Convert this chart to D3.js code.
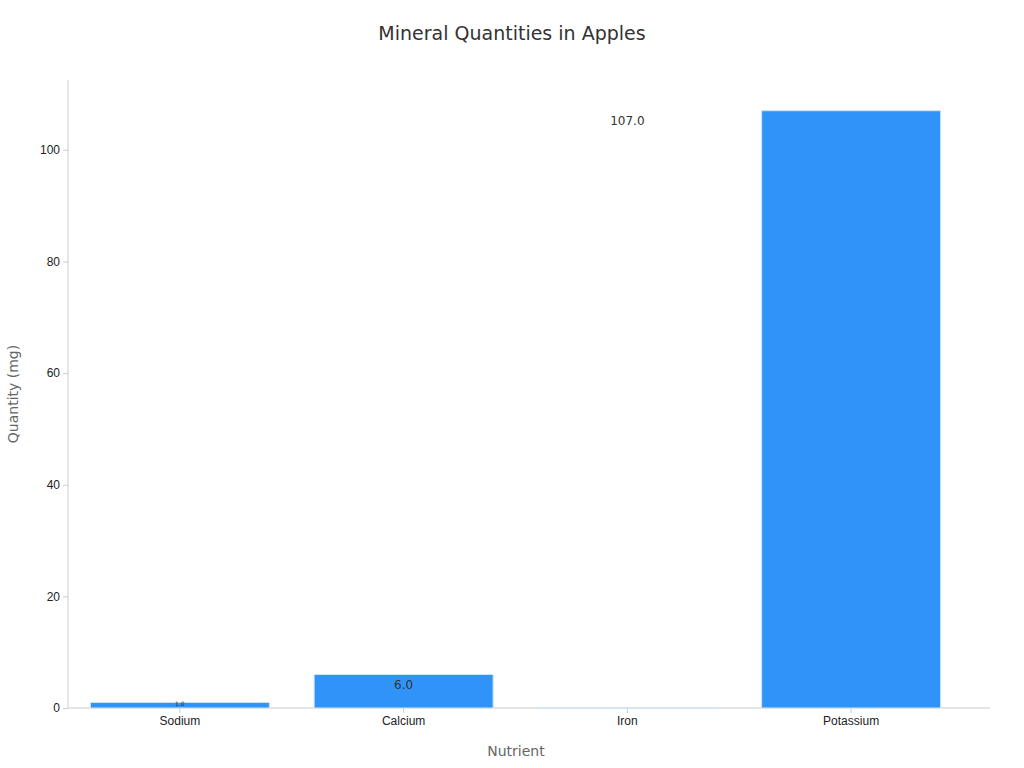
<!DOCTYPE html>
<html><head><meta charset="utf-8">
<script src="https://cdn.jsdelivr.net/npm/d3@7"></script>
<style>body{margin:0;background:#fff;font-family:"DejaVu Sans",sans-serif}</style>
</head><body><svg id="chart" width="1024" height="768"></svg>
<script>
const nutrients = ["Sodium", "Calcium", "Iron", "Potassium"]
const quantities = [1.0, 6.0, 0.1, 107.0]
const barColors = ["#2f93f8", "#2f93f8", "#c6dcf0", "#2f93f8"]

const svg = d3.select("#chart"),
    margin = {top: 80, right: 61, bottom: 60, left: 68},
    width = 1024 - margin.left - margin.right,
    height = 768 - margin.top - margin.bottom

const g = svg.append("g").attr("transform", `translate(${margin.left},${margin.top})`)

const x = d3.scaleBand().domain(nutrients).range([0, width]).paddingInner(0.2).paddingOuter(0.1)
const y = d3.scaleLinear().domain([0, 112.5]).range([height, 0])

const xAxis = g.append("g").attr("transform", `translate(0,${height})`).call(d3.axisBottom(x).tickSize(5))
const yAxis = g.append("g").call(d3.axisLeft(y).ticks(6).tickSize(5))
;[xAxis, yAxis].forEach(a => {
  a.selectAll(".domain,line").attr("stroke", "#ccc")
  a.selectAll("text").attr("fill", "#222").attr("font-size", 12)
})
yAxis.select(".domain").attr("d", `M0,0V${height}`)
xAxis.select(".domain").attr("d", `M0,0H${width + 27}`)

g.selectAll("rect.bar").data(quantities).enter().append("rect")
  .attr("x", (d, i) => x(nutrients[i]))
  .attr("y", d => y(d))
  .attr("width", x.bandwidth())
  .attr("height", d => height - y(d))
  .attr("fill", (d, i) => barColors[i])
  .attr("stroke", "#d0e6fb").attr("stroke-width", 1)

g.selectAll("text.lbl").data(quantities).enter().append("text")
  .filter(d => d >= 1)
  .attr("x", (d, i) => x(nutrients[i]) + x.bandwidth() / 2)
  .attr("y", d => d < 2 ? y(d) + 4 : y(d) + 14)
  .attr("text-anchor", "middle")
  .attr("font-size", d => d < 2 ? 6 : 12)
  .attr("fill", "#333")
  .text(d => d.toFixed(1))

svg.append("text").attr("x", 512).attr("y", 40).attr("text-anchor", "middle")
  .attr("font-size", 19).attr("fill", "#333").text("Mineral Quantities in Apples")
svg.append("text").attr("x", 516).attr("y", 756).attr("text-anchor", "middle")
  .attr("font-size", 14).attr("fill", "#666").text("Nutrient")
svg.append("text").attr("transform", "translate(18,394) rotate(-90)").attr("text-anchor", "middle")
  .attr("font-size", 14).attr("fill", "#666").text("Quantity (mg)")
</script></body></html>
